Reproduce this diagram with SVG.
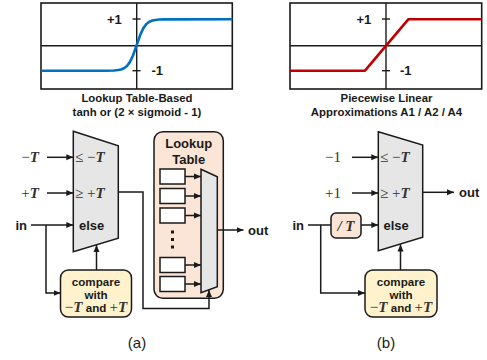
<svg xmlns="http://www.w3.org/2000/svg" width="487" height="360" viewBox="0 0 487 360">
  <style>
    .frame { fill: #fff; stroke: #1a1a1a; stroke-width: 1.6; }
    .axis { fill: none; stroke: #1a1a1a; stroke-width: 1.4; }
    .lbl { font-family: "Liberation Sans", Arial, sans-serif; font-weight: bold; fill: #1a1a1a; }
    .cap { font-family: "Liberation Sans", Arial, sans-serif; fill: #1a1a1a; font-size: 15px; text-anchor: middle; }
    .math { font-family: "Liberation Serif", "DejaVu Serif", serif; font-size: 15px; fill: #333; }
    .mux { fill: #e7e6e6; stroke: #1a1a1a; stroke-width: 1.5; }
    .cmp { fill: #fff2cc; stroke: #1a1a1a; stroke-width: 1.5; }
    .peach { fill: #fbe5d6; stroke: #1a1a1a; stroke-width: 1.5; }
    .reg { fill: #fff; stroke: #1a1a1a; stroke-width: 1.5; }
    .wire { fill: none; stroke: #1a1a1a; stroke-width: 1.5; }
    .arr { marker-end: url(#ah); }
  </style>
  <defs>
    <marker id="ah" markerUnits="userSpaceOnUse" markerWidth="8" markerHeight="8" viewBox="0 0 8 8" refX="7" refY="4" orient="auto">
      <path d="M0,1 L7,4 L0,7 z" fill="#1a1a1a"/>
    </marker>
  </defs>
  <rect width="487" height="360" fill="#fff"/>

  <!-- transfer curve: tanh -->
  <g id="plot-tanh">
    <rect class="frame" x="41" y="3" width="191.3" height="86"/>
    <line class="axis" x1="41" y1="45.7" x2="232.3" y2="45.7"/>
    <line class="axis" x1="136.7" y1="3" x2="136.7" y2="89"/>
    <line class="axis" x1="132.5" y1="19" x2="140.5" y2="19"/>
    <line class="axis" x1="132.5" y1="70.7" x2="140.5" y2="70.7"/>
    <polyline fill="none" stroke="#0070c0" stroke-width="2.6" stroke-linejoin="round" points="41,70.7 106,70.7 114,70.45 118,70.08 121,69.45 124,68.23 127,65.92 130,61.88 133,55.53 136.7,45 140.4,34.47 143.4,28.12 146.4,24.08 149.4,21.77 152.4,20.55 155.4,19.92 159.4,19.55 163.4,19.4 167.4,19.34 232.3,19.3"/>
    <text class="lbl" x="107" y="23.6" font-size="13">+1</text>
    <text class="lbl" x="151.5" y="75.3" font-size="13">-1</text>
    <text class="lbl" x="137" y="102.3" font-size="11.4" text-anchor="middle">Lookup Table-Based</text>
    <text class="lbl" x="137" y="115.8" font-size="11.4" text-anchor="middle">tanh or (2 × sigmoid - 1)</text>
  </g>

  <!-- transfer curve: piecewise linear -->
  <g id="plot-pwl">
    <rect class="frame" x="290" y="3" width="191.7" height="86"/>
    <line class="axis" x1="290" y1="45.7" x2="481.7" y2="45.7"/>
    <line class="axis" x1="386" y1="3" x2="386" y2="89"/>
    <line class="axis" x1="382" y1="19" x2="390" y2="19"/>
    <line class="axis" x1="382" y1="70.7" x2="390" y2="70.7"/>
    <polyline fill="none" stroke="#c00000" stroke-width="2.6" stroke-linejoin="round" points="290,70.7 365,70.7 408.3,19.3 481.7,19.3"/>
    <text class="lbl" x="356.5" y="23.6" font-size="13">+1</text>
    <text class="lbl" x="400" y="75.3" font-size="13">-1</text>
    <text class="lbl" x="386.5" y="102.3" font-size="11.4" text-anchor="middle">Piecewise Linear</text>
    <text class="lbl" x="386.5" y="115.8" font-size="11.4" text-anchor="middle">Approximations A1 / A2 / A4</text>
  </g>

  <!-- (a) lookup-table datapath -->
  <g id="a-inputs">
    <text class="math" x="30" y="162" text-anchor="middle">−<tspan font-style="italic" font-weight="bold">T</tspan></text>
    <text class="math" x="30" y="198" text-anchor="middle">+<tspan font-style="italic" font-weight="bold">T</tspan></text>
    <text class="lbl" x="15.5" y="229.8" font-size="13">in</text>
  </g>
  <g id="a-mux">
    <polygon class="mux" points="73.3,131.3 118.3,145.7 118.3,238.3 73.3,251.7"/>
    <text class="math" x="75" y="162">≤ −<tspan font-style="italic" font-weight="bold">T</tspan></text>
    <text class="math" x="75" y="198">≥ +<tspan font-style="italic" font-weight="bold">T</tspan></text>
    <text class="lbl" x="79" y="229.8" font-size="13">else</text>
  </g>
  <g id="a-compare">
    <rect class="cmp" x="60.5" y="270" width="71" height="47" rx="8"/>
    <text class="lbl" x="96" y="285.8" font-size="11.6" text-anchor="middle">compare</text>
    <text class="lbl" x="96" y="298.5" font-size="11.6" text-anchor="middle">with</text>
    <text class="lbl" x="96" y="311.5" font-size="11.6" text-anchor="middle"><tspan class="math" font-size="13" font-weight="normal">−<tspan font-style="italic" font-weight="bold">T</tspan></tspan> and <tspan class="math" font-size="13" font-weight="normal">+<tspan font-style="italic" font-weight="bold">T</tspan></tspan></text>
  </g>
  <g id="a-lut">
    <rect class="peach" x="154" y="131.7" width="69.3" height="166.6" rx="9"/>
    <text class="lbl" x="188.7" y="148" font-size="13" text-anchor="middle">Lookup</text>
    <text class="lbl" x="188.7" y="163.5" font-size="13" text-anchor="middle">Table</text>
    <rect class="reg" x="160" y="169" width="25" height="15"/>
    <rect class="reg" x="160" y="188.5" width="25" height="15"/>
    <rect class="reg" x="160" y="208" width="25" height="15"/>
    <rect class="reg" x="160" y="257.5" width="25" height="15"/>
    <rect class="reg" x="160" y="276.5" width="25" height="15"/>
    <rect x="171" y="230.5" width="3" height="3" fill="#1a1a1a"/>
    <rect x="171" y="238" width="3" height="3" fill="#1a1a1a"/>
    <rect x="171" y="245.5" width="3" height="3" fill="#1a1a1a"/>
    <polygon class="mux" points="201,169.3 217.3,176.7 217.3,286.7 201,292.7"/>
  </g>
  <g id="a-out">
    <text class="lbl" x="248" y="234.6" font-size="13">out</text>
  </g>

  <!-- (b) piecewise-linear datapath -->
  <g id="b-inputs">
    <text class="math" x="333" y="162" text-anchor="middle">−1</text>
    <text class="math" x="333" y="198" text-anchor="middle">+1</text>
    <text class="lbl" x="292.5" y="229.8" font-size="13">in</text>
  </g>
  <g id="b-scale">
    <rect class="peach" x="331" y="213" width="30" height="25" rx="5"/>
    <text class="math" x="346" y="230.5" text-anchor="middle" font-style="italic" font-weight="bold">/ T</text>
  </g>
  <g id="b-mux">
    <polygon class="mux" points="378.3,131.7 422.7,145 422.7,237.3 378.3,250.7"/>
    <text class="math" x="380" y="162">≤ −<tspan font-style="italic" font-weight="bold">T</tspan></text>
    <text class="math" x="380" y="198">≥ +<tspan font-style="italic" font-weight="bold">T</tspan></text>
    <text class="lbl" x="383.5" y="229.8" font-size="13">else</text>
  </g>
  <g id="b-compare">
    <rect class="cmp" x="365" y="270" width="72" height="47" rx="8"/>
    <text class="lbl" x="401" y="285.8" font-size="11.6" text-anchor="middle">compare</text>
    <text class="lbl" x="401" y="298.5" font-size="11.6" text-anchor="middle">with</text>
    <text class="lbl" x="401" y="311.5" font-size="11.6" text-anchor="middle"><tspan class="math" font-size="13" font-weight="normal">−<tspan font-style="italic" font-weight="bold">T</tspan></tspan> and <tspan class="math" font-size="13" font-weight="normal">+<tspan font-style="italic" font-weight="bold">T</tspan></tspan></text>
  </g>
  <g id="b-out">
    <text class="lbl" x="459" y="196.6" font-size="13">out</text>
  </g>

  <!-- connectors -->
  <g id="connectors">
    <!-- (a) -->
    <line class="wire arr" x1="47" y1="157.3" x2="73.3" y2="157.3"/>
    <line class="wire arr" x1="47" y1="193" x2="73.3" y2="193"/>
    <line class="wire arr" x1="31" y1="225" x2="73.3" y2="225"/>
    <polyline class="wire arr" points="46,225 46,293 60.5,293"/>
    <line class="wire arr" x1="96.5" y1="270" x2="96.5" y2="245"/>
    <polyline class="wire arr" points="118.3,192 143,192 143,308.5 209,308.5 209,290"/>
    <line class="wire arr" x1="185" y1="176.5" x2="201" y2="176.5"/>
    <line class="wire arr" x1="185" y1="196" x2="201" y2="196"/>
    <line class="wire arr" x1="185" y1="215.5" x2="201" y2="215.5"/>
    <line class="wire arr" x1="185" y1="265" x2="201" y2="265"/>
    <line class="wire arr" x1="185" y1="284" x2="201" y2="284"/>
    <line class="wire arr" x1="217.3" y1="230" x2="243.5" y2="230"/>
    <!-- (b) -->
    <line class="wire arr" x1="352" y1="157.3" x2="378.3" y2="157.3"/>
    <line class="wire arr" x1="352" y1="193" x2="378.3" y2="193"/>
    <line class="wire" x1="308" y1="225" x2="331" y2="225"/>
    <line class="wire arr" x1="361" y1="225" x2="378.3" y2="225"/>
    <polyline class="wire arr" points="320.7,225 320.7,293 365,293"/>
    <line class="wire arr" x1="400.5" y1="270" x2="400.5" y2="244.5"/>
    <line class="wire arr" x1="422.7" y1="192.3" x2="454" y2="192.3"/>
  </g>

  <text class="cap" x="137" y="347.5">(a)</text>
  <text class="cap" x="386" y="347.5">(b)</text>
</svg>
